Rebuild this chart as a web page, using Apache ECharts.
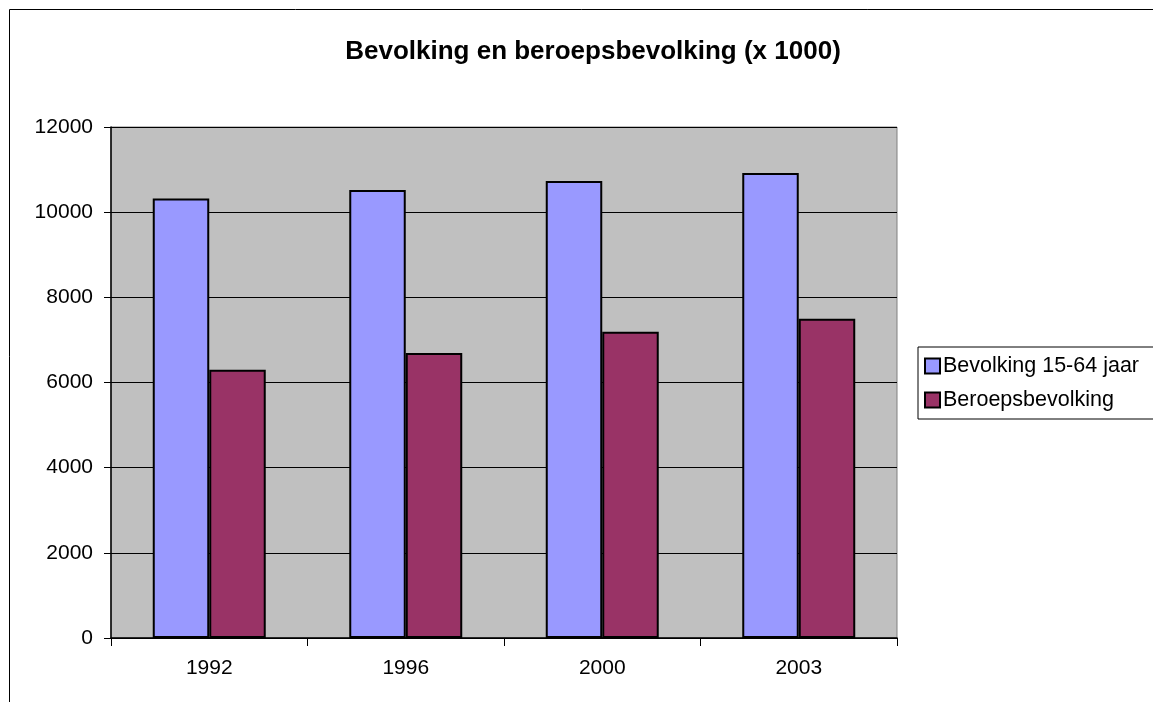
<!DOCTYPE html>
<html>
<head>
<meta charset="utf-8">
<script src="https://cdn.jsdelivr.net/npm/echarts@6/dist/echarts.min.js"></script>
<style>
html,body{margin:0;padding:0;background:#fff;}
#chart{width:1153px;height:702px;}
</style>
</head>
<body>
<div id="chart"></div>
<script>
const categories = ['1992', '1996', '2000', '2003'];
const bevolking = [10320, 10520, 10730, 10920];
const beroepsbevolking = [6300, 6690, 7190, 7500];
const seriesNames = ['Bevolking 15-64 jaar', 'Beroepsbevolking'];
const titleText = 'Bevolking en beroepsbevolking (x 1000)';

const chart = echarts.init(document.getElementById('chart'));
const font = 'Arial, "Liberation Sans", sans-serif';
chart.setOption({
  backgroundColor: '#ffffff',
  animation: false,
  graphic: [{
    type: 'rect',
    shape: {x: 9.5, y: 9.5, width: 1200, height: 750},
    style: {fill: 'none', stroke: '#000', lineWidth: 1},
    silent: true, z: -1
  }],
  title: {
    text: titleText,
    left: 588, top: 34, textAlign: 'center',
    textStyle: {fontFamily: font, fontSize: 26, fontWeight: 'bold', color: '#000'}
  },
  legend: {
    orient: 'vertical',
    left: 918, top: 347,
    padding: [8, 30, 8, 6],
    itemGap: 12,
    itemWidth: 15, itemHeight: 15,
    icon: 'rect',
    borderColor: '#000', borderWidth: 1,
    backgroundColor: '#fff',
    textStyle: {fontFamily: font, fontSize: 21.5, color: '#000', padding: [0, 0, 0, -2]},
    data: seriesNames
  },
  grid: {
    left: 111, right: 256, top: 127, bottom: 64,
    show: true, backgroundColor: '#C0C0C0', borderColor: '#808080', borderWidth: 1
  },
  xAxis: {
    type: 'category',
    data: categories,
    axisLine: {lineStyle: {color: '#000', width: 1.5}},
    axisTick: {show: true, length: 8, lineStyle: {color: '#000'}},
    axisLabel: {fontFamily: font, fontSize: 21, color: '#000', margin: 20}
  },
  yAxis: {
    type: 'value',
    min: 0, max: 12000, interval: 2000,
    axisLine: {show: true, lineStyle: {color: '#000', width: 1.5}},
    axisTick: {show: true, length: 7, lineStyle: {color: '#000'}},
    axisLabel: {fontFamily: font, fontSize: 21, color: '#000', margin: 18,
      formatter: v => String(v)},
    splitLine: {show: true, lineStyle: {color: '#000', width: 1}}
  },
  series: [{
    name: seriesNames[0], type: 'bar', data: bevolking,
    barGap: '0%', barCategoryGap: '42.5%',
    itemStyle: {color: '#9999FF', borderColor: '#000', borderWidth: 2}
  }, {
    name: seriesNames[1], type: 'bar', data: beroepsbevolking,
    barGap: '0%', barCategoryGap: '42.5%',
    itemStyle: {color: '#993366', borderColor: '#000', borderWidth: 2}
  }]
});
</script>
</body>
</html>
